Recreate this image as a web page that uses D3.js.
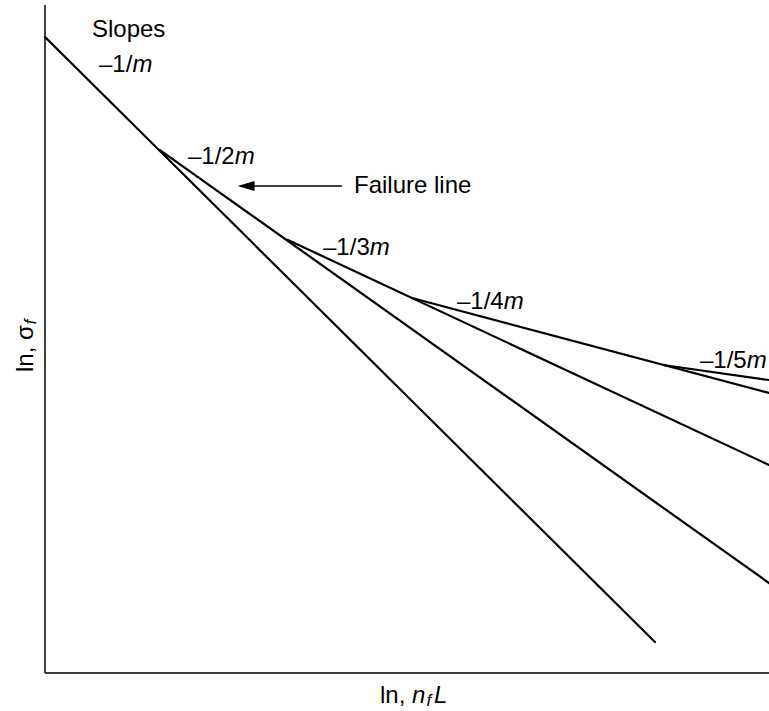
<!DOCTYPE html>
<html><head><meta charset="utf-8">
<script src="https://cdn.jsdelivr.net/npm/d3@7"></script>
<style>
body{margin:0;background:#fff;}
text{font-family:"Liberation Sans",Arial,sans-serif;font-size:24px;fill:#000;}
</style></head>
<body><svg id="c" width="769" height="711"></svg>
<script>
// Abstract ln-space coordinates (x: ln nfL, y: ln sigma_f), 0..100 each
const branchNames = ["-1/m","-1/2m","-1/3m","-1/4m","-1/5m"];
const segStartX = [0, 15.88, 33.56, 50.69, 85.36];
const segStartY = [95.2, 78.29, 64.82, 56.14, 46.11];
const segEndX   = [84.25, 100, 100, 100, 100];
const segEndY   = [4.64, 13.47, 31.14, 41.92, 43.86];

const labels = [
  {t:"Slopes", x:6.49, y:95.2},
  {t:"–1/", it:"m", x:7.46, y:89.97},
  {t:"–1/2", it:"m", x:19.75, y:76.2},
  {t:"–1/3", it:"m", x:38.4, y:62.6},
  {t:"–1/4", it:"m", x:56.9, y:54.5},
  {t:"–1/5", it:"m", x:90.47, y:45.7},
  {t:"Failure line", x:42.68, y:71.8}
];
const arrowFrom = [41.0, 72.9];
const arrowTo   = [26.6, 72.9];

const svg = d3.select("#c");
const x = d3.scaleLinear().domain([0,100]).range([45,769]);
const y = d3.scaleLinear().domain([0,100]).range([673,5]);

// axes
svg.append("line").attr("x1",x(0)).attr("x2",x(0)).attr("y1",y(100)).attr("y2",y(0))
  .attr("stroke","#000").attr("stroke-width",1.5);
svg.append("line").attr("x1",x(0)).attr("x2",x(100)).attr("y1",y(0)).attr("y2",y(0))
  .attr("stroke","#000").attr("stroke-width",1.5);

// segments
const segs = branchNames.map((n,i)=>({n, x1:segStartX[i], y1:segStartY[i], x2:segEndX[i], y2:segEndY[i]}));
svg.selectAll("line.seg").data(segs).join("line").attr("class","seg")
  .attr("x1",d=>x(d.x1)).attr("y1",d=>y(d.y1)).attr("x2",d=>x(d.x2)).attr("y2",d=>y(d.y2))
  .attr("stroke","#000").attr("stroke-width",2.2).attr("stroke-linecap","round");

// arrow
svg.append("line").attr("x1",x(arrowFrom[0])).attr("y1",y(arrowFrom[1]))
  .attr("x2",x(arrowTo[0])+14).attr("y2",y(arrowTo[1]))
  .attr("stroke","#000").attr("stroke-width",1.5);
svg.append("path").attr("d",`M${x(arrowTo[0])},${y(arrowTo[1])} l17,-5 l0,10 Z`).attr("fill","#000");

// labels
labels.forEach(l=>{
  const t = svg.append("text").attr("x",x(l.x)).attr("y",y(l.y));
  t.append("tspan").text(l.t);
  if(l.it) t.append("tspan").attr("font-style","italic").text(l.it);
});

// axis titles
const xt = svg.append("text").attr("x",380).attr("y",703);
xt.append("tspan").text("ln, ");
xt.append("tspan").attr("font-style","italic").text("n");
xt.append("tspan").attr("font-style","italic").attr("font-size","17px").attr("dx",1).attr("dy",3).text("f");
xt.append("tspan").attr("font-style","italic").attr("dx",3).attr("dy",-3).text("L");

const yt = svg.append("text").attr("transform","translate(33,372) rotate(-90)");
yt.append("tspan").text("ln, σ");
yt.append("tspan").attr("font-style","italic").attr("font-size","17px").attr("dx",1).attr("dy",3).text("f");
</script></body></html>
